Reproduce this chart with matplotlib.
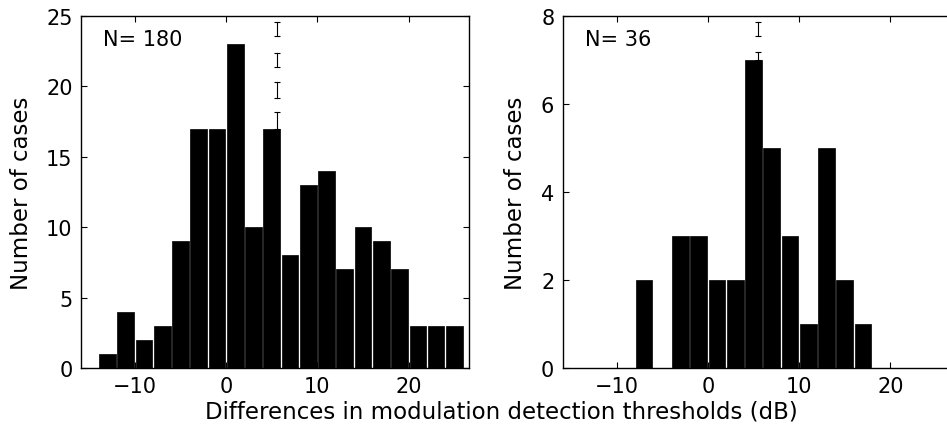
"""Two histograms of modulation detection threshold differences."""

import matplotlib

matplotlib.use("Agg")
import matplotlib.pyplot as plt

plt.rcParams["font.family"] = ["DejaVu Sans"]

# bin centres (dB) and counts
centres_all = [-13, -11, -9, -7, -5, -3, -1, 1, 3, 5, 7, 9, 11, 13, 15, 17, 19, 21, 23, 25]
counts_all = [1, 4, 2, 3, 9, 17, 17, 23, 10, 17, 8, 13, 14, 7, 10, 9, 7, 3, 3, 3]

centres_sub = [-7, -5, -3, -1, 1, 3, 5, 7, 9, 11, 13, 15, 17]
counts_sub = [2, 0, 3, 3, 2, 2, 7, 5, 3, 1, 5, 2, 1]

# mean marker: x position and the dash pieces (bottom, top) above the bar
mean_all = 5.6
dashes_all = [(17.0, 18.2), (19.2, 20.3), (21.4, 22.4), (23.6, 24.6)]
mean_sub = 5.5
dashes_sub = [(7.0, 7.19), (7.54, 7.86)]

FONT = 15
LABEL_FONT = 16.5
BIN_WIDTH = 1.82
XLIM = (-15.9, 26.6)


def draw_panel(ax, centres, counts, mean, dashes, n_label, yticks, label_x,
               right_ticks=True):
    ax.bar(centres, counts, width=BIN_WIDTH, color="black",
           edgecolor="black", linewidth=0.5)
    for lo, hi in dashes:
        ax.plot([mean, mean], [lo, hi], color="black", linewidth=0.8,
                marker="_", markersize=4, markeredgewidth=0.8)
    ax.set_xlim(*XLIM)
    ax.set_ylim(yticks[0], yticks[-1])
    ax.set_xticks([-10, 0, 10, 20])
    ax.set_yticks(yticks)
    ax.tick_params(direction="in", top=True, right=right_ticks, length=4,
                   width=0.8, labelsize=FONT, pad=6)
    for spine in ax.spines.values():
        spine.set_linewidth(1.0)
    ax.text(0.057, 0.936, n_label, transform=ax.transAxes, fontsize=FONT,
            va="center", ha="left")
    ax.set_ylabel("Number of cases", fontsize=LABEL_FONT)
    ax.yaxis.set_label_coords(label_x, 0.5)


fig = plt.figure(figsize=(9.47, 4.35), dpi=100)
ax_all = fig.add_axes([0.0855, 0.1517, 0.4097, 0.8092])
ax_sub = fig.add_axes([0.5942, 0.1517, 0.4097, 0.8092])

draw_panel(ax_all, centres_all, counts_all, mean_all, dashes_all,
           "N= 180", [0, 5, 10, 15, 20, 25], -0.124)
draw_panel(ax_sub, centres_sub, counts_sub, mean_sub, dashes_sub,
           "N= 36", [0, 2, 4, 6, 8], -0.092, right_ticks=False)

fig.text(0.529, 0.052, "Differences in modulation detection thresholds (dB)",
         ha="center", va="center", fontsize=LABEL_FONT)

fig.savefig("out.png", dpi=100)
